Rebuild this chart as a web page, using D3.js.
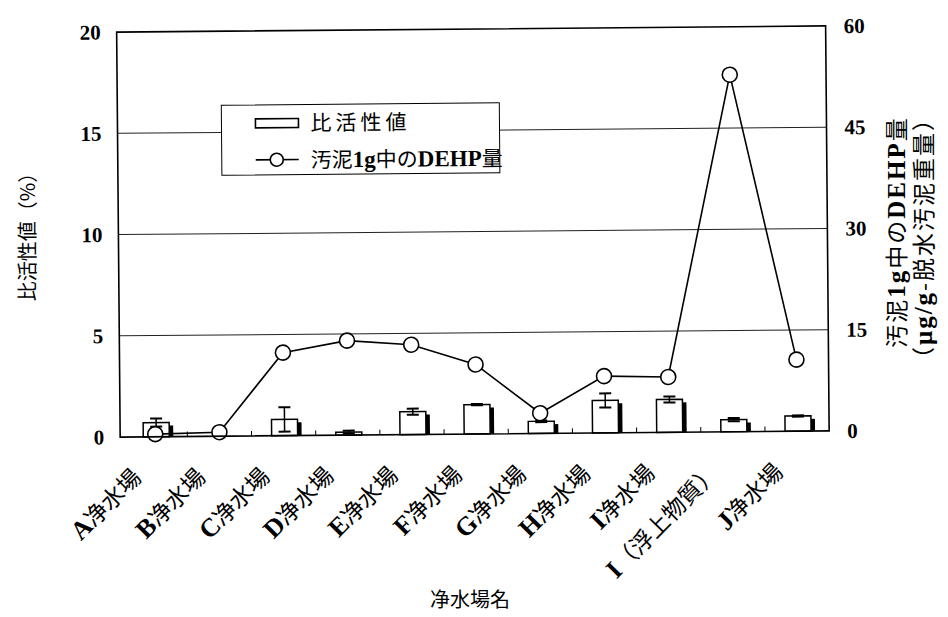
<!DOCTYPE html>
<html>
<head>
<meta charset="utf-8">
<script src="https://cdn.jsdelivr.net/npm/d3@7"></script>
<style>
  html, body { margin: 0; padding: 0; background: #fff; }
  svg { display: block; }
  text { -webkit-font-smoothing: antialiased; }
</style>
</head>
<body>
<svg id="chart" width="948" height="617"></svg>
<script>
// Plants (x categories)
const categories = ["A净水場", "B净水場", "C净水場", "D净水場", "E净水場", "F净水場",
                    "G净水場", "H净水場", "I净水場", "I（浮上物質）", "J净水場"];
// Specific activity (%) with error half-widths
const activity    = [0.7, 0, 0.8, 0.15, 1.13, 1.45, 0.6, 1.6, 1.62, 0.6, 0.75];
const activityErr = [0.2, 0, 0.6, 0.07, 0.15, 0.03, 0.04, 0.35, 0.15, 0.08, 0.03];
// DEHP per 1 g sludge (μg/g dewatered sludge)
const dehp = [0.4, 0.6, 12.3, 14.0, 13.3, 10.3, 3.0, 8.4, 8.2, 52.9, 10.6];
// Axis ticks
const leftTicks  = [0, 5, 10, 15, 20];
const rightTicks = [0, 15, 30, 45, 60];

const rows = categories.map((c, i) => ({ cat: c, act: activity[i], err: activityErr[i], dehp: dehp[i] }));

const SERIF = "'Liberation Serif', 'DejaVu Serif', serif";
const CJK = "'Noto Sans CJK JP', 'Noto Sans CJK SC', sans-serif";

const frame = { left: 119, right: 828, top: 29, bottom: 434 };

const svg = d3.select("#chart");
const root = svg.append("g").attr("transform", "rotate(-0.5, 474, 300)");

const x  = d3.scaleBand().domain(categories).range([122, 828]).padding(0);
const yL = d3.scaleLinear().domain([0, 20]).range([frame.bottom, frame.top]);
const yR = d3.scaleLinear().domain([0, 60]).range([frame.bottom, frame.top]);
const cx = c => x(c) + x.bandwidth() / 2;

// Gridlines
root.append("g").selectAll("line").data([5, 10, 15]).join("line")
  .attr("x1", frame.left).attr("x2", frame.right)
  .attr("y1", d => yL(d)).attr("y2", d => yL(d))
  .attr("stroke", "#222").attr("stroke-width", 1);

// Left axis labels
const axL = root.append("g").attr("transform", `translate(${frame.left},0)`)
  .call(d3.axisLeft(yL).tickValues(leftTicks).tickSize(0).tickPadding(16).tickFormat(d3.format("d")));
axL.select(".domain").remove();
axL.selectAll("text").attr("font-family", SERIF).attr("font-weight", "bold")
  .attr("font-size", 21).attr("fill", "#000");

// Right axis labels
const axR = root.append("g").attr("transform", `translate(${frame.right},0)`)
  .call(d3.axisRight(yR).tickValues(rightTicks).tickSize(0).tickPadding(18).tickFormat(d3.format("d")));
axR.select(".domain").remove();
axR.selectAll("text").attr("font-family", SERIF).attr("font-weight", "bold")
  .attr("font-size", 21).attr("fill", "#000");

// Category boundary ticks on the bottom axis
root.append("g").selectAll("line").data(categories.slice(1)).join("line")
  .attr("x1", d => x(d)).attr("x2", d => x(d))
  .attr("y1", frame.bottom).attr("y2", frame.bottom - 5)
  .attr("stroke", "#000").attr("stroke-width", 1);

// Bars with dark right-side shadow
const barW = 26, shadowW = 5;
const withBar = rows.filter(r => r.act > 0);
const bars = root.append("g").selectAll("g").data(withBar).join("g");
bars.append("rect")
  .attr("x", r => cx(r.cat) + 1 + barW / 2 - 1)
  .attr("y", r => Math.min(yL(r.act) + 3, frame.bottom))
  .attr("width", shadowW)
  .attr("height", r => Math.max(0, frame.bottom - yL(r.act) - 3))
  .attr("fill", "#000");
bars.append("rect")
  .attr("x", r => cx(r.cat) + 1 - barW / 2)
  .attr("y", r => yL(r.act))
  .attr("width", barW)
  .attr("height", r => frame.bottom - yL(r.act))
  .attr("fill", "#fff").attr("stroke", "#000").attr("stroke-width", 1.5);

// Error bars
const err = root.append("g").selectAll("g").data(rows.filter(r => r.err > 0)).join("g");
err.append("line")
  .attr("x1", r => cx(r.cat) + 1).attr("x2", r => cx(r.cat) + 1)
  .attr("y1", r => yL(r.act - r.err)).attr("y2", r => yL(r.act + r.err))
  .attr("stroke", "#000").attr("stroke-width", 1.5);
[-1, 1].forEach(s => {
  err.append("line")
    .attr("x1", r => cx(r.cat) + 1 - 6).attr("x2", r => cx(r.cat) + 1 + 6)
    .attr("y1", r => yL(r.act + s * r.err)).attr("y2", r => yL(r.act + s * r.err))
    .attr("stroke", "#000").attr("stroke-width", 2);
});

// DEHP line and markers
const line = d3.line().x(r => cx(r.cat)).y(r => yR(r.dehp));
root.append("path").datum(rows).attr("d", line)
  .attr("fill", "none").attr("stroke", "#000").attr("stroke-width", 1.6);
root.append("g").selectAll("circle").data(rows).join("circle")
  .attr("cx", r => cx(r.cat)).attr("cy", r => yR(r.dehp)).attr("r", 7.5)
  .attr("fill", "#fff").attr("stroke", "#000").attr("stroke-width", 1.6);

// Plot frame
root.append("rect")
  .attr("x", frame.left).attr("y", frame.top)
  .attr("width", frame.right - frame.left).attr("height", frame.bottom - frame.top)
  .attr("fill", "none").attr("stroke", "#000").attr("stroke-width", 1.6);

// Legend
const lg = root.append("g");
lg.append("rect").attr("x", 223).attr("y", 103).attr("width", 278).attr("height", 70)
  .attr("fill", "#fff").attr("stroke", "#000").attr("stroke-width", 1);
lg.append("rect").attr("x", 257).attr("y", 117).attr("width", 43).attr("height", 9)
  .attr("fill", "#fff").attr("stroke", "#000").attr("stroke-width", 1.6);
lg.append("text").attr("x", 312).attr("y", 129).attr("font-family", CJK)
  .attr("font-size", 21).attr("letter-spacing", 4).text("比活性値");
lg.append("line").attr("x1", 257).attr("x2", 300).attr("y1", 158).attr("y2", 158)
  .attr("stroke", "#000").attr("stroke-width", 1.6);
lg.append("circle").attr("cx", 278).attr("cy", 158).attr("r", 6.5)
  .attr("fill", "#fff").attr("stroke", "#000").attr("stroke-width", 1.6);
const lt = lg.append("text").attr("x", 312).attr("y", 166).attr("font-size", 21).attr("font-family", CJK);
lt.append("tspan").text("汚泥");
lt.append("tspan").attr("font-family", SERIF).attr("font-weight", "bold").attr("font-size", 23).text("1g");
lt.append("tspan").text("中の");
lt.append("tspan").attr("font-family", SERIF).attr("font-weight", "bold").attr("font-size", 23).text("DEHP");
lt.append("tspan").text("量");

// X category labels, rotated
root.append("g").selectAll("text").data(categories).join("text")
  .attr("transform", d => `translate(${cx(d) - 13},${frame.bottom + 42}) rotate(-45)`)
  .attr("text-anchor", "end").attr("font-size", 23).attr("font-family", CJK)
  .each(function(d) {
    const t = d3.select(this);
    t.append("tspan").attr("font-family", SERIF).attr("font-weight", "bold").attr("font-size", 26).text(d[0]);
    t.append("tspan").text(d.slice(1));
  });

// Axis titles
svg.append("text").attr("x", 470).attr("y", 607).attr("text-anchor", "middle")
  .attr("font-family", CJK).attr("font-size", 20).text("净水場名");

svg.append("text").attr("transform", "translate(35,232) rotate(-90)")
  .attr("text-anchor", "middle").attr("font-family", CJK).attr("font-size", 20)
  .text("比活性値（%）");

const r1 = svg.append("text").attr("transform", "translate(905,232) rotate(-90)")
  .attr("text-anchor", "middle").attr("font-family", CJK).attr("font-size", 23)
  .attr("letter-spacing", 2).attr("fill", "#000");
r1.append("tspan").text("汚泥");
r1.append("tspan").attr("font-family", SERIF).attr("font-weight", "bold").attr("font-size", 25).text("1g");
r1.append("tspan").text("中の");
r1.append("tspan").attr("font-family", SERIF).attr("font-weight", "bold").attr("font-size", 25).text("DEHP");
r1.append("tspan").text("量");

const r2 = svg.append("text").attr("transform", "translate(932,238) rotate(-90)")
  .attr("text-anchor", "middle").attr("font-family", CJK).attr("font-size", 23)
  .attr("letter-spacing", 2).attr("fill", "#000");
r2.append("tspan").text("（");
r2.append("tspan").attr("font-family", SERIF).attr("font-weight", "bold").attr("font-size", 25).text("μg/g");
r2.append("tspan").text("-脱水汚泥重量）");
</script>
</body>
</html>
